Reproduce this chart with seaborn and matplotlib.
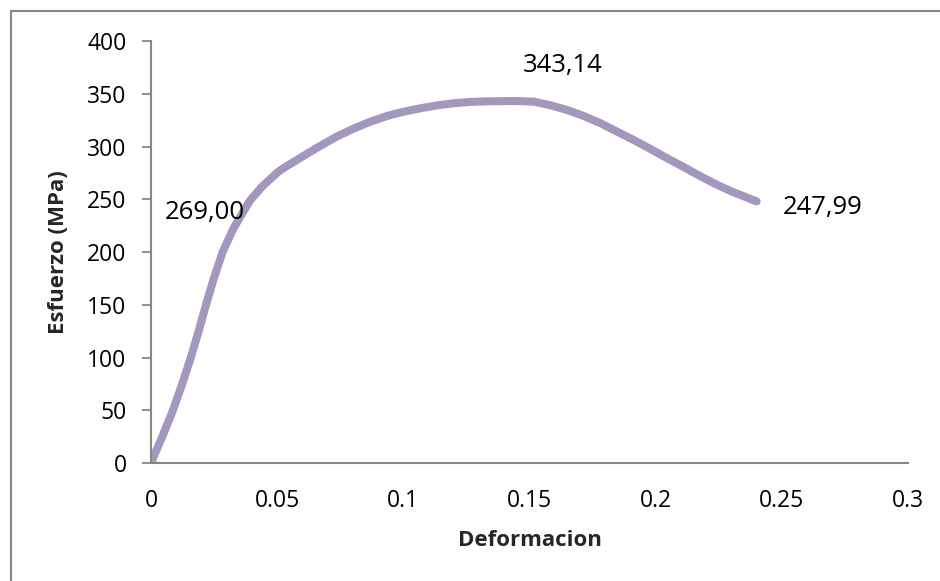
import matplotlib
matplotlib.use("Agg")
import matplotlib.pyplot as plt
import seaborn as sns
import pandas as pd
from matplotlib.patches import Rectangle

# Stress-strain curve
deformacion = [0.0, 0.0045, 0.0087, 0.0124, 0.0158, 0.0189, 0.0218, 0.0249, 0.0284,
               0.0326, 0.0353, 0.0393, 0.044, 0.0504, 0.0535, 0.0604, 0.067, 0.0737,
               0.0803, 0.0869, 0.0935, 0.1001, 0.1067, 0.1134, 0.12, 0.1266, 0.1332,
               0.1398, 0.1432, 0.1451, 0.1517, 0.1583, 0.165, 0.1715, 0.1782,
               0.1848, 0.1914, 0.198, 0.2046, 0.2113, 0.2179, 0.2245, 0.231, 0.24]
esfuerzo = [0.0, 25.0, 50.0, 75.0, 100.0, 125.0, 150.0, 175.0, 200.0,
            222.0, 233.0, 249.0, 262.0, 276.0, 281.0, 291.0, 300.5, 309.5,
            317.0, 323.5, 328.9, 333.0, 336.2, 339.0, 341.0, 342.3, 342.8,
            343.0, 343.14, 343.1, 342.5, 339.1, 334.6, 328.9, 322.0,
            314.0, 306.0, 297.6, 288.8, 280.3, 271.6, 263.5, 256.5, 247.99]

# Annotated values and where their labels sit
etiquetas = ["269,00", "343,14", "247,99"]
etiqueta_x = [0.0215, 0.163, 0.266]
etiqueta_y = [237, 377, 242]

x_ticks = [0, 0.05, 0.1, 0.15, 0.2, 0.25, 0.3]
x_tick_labels = ["0", "0.05", "0.1", "0.15", "0.2", "0.25", "0.3"]
y_ticks = [0, 50, 100, 150, 200, 250, 300, 350, 400]

sns.set_theme(style="white")
plt.rcParams["font.family"] = ["Open Sans", "DejaVu Sans"]

df = pd.DataFrame({"Deformacion": deformacion, "Esfuerzo": esfuerzo})

fig = plt.figure(figsize=(9.4, 5.81), dpi=100)
ax = fig.add_axes([0.1606, 0.2031, 0.966 - 0.1606, 0.9294 - 0.2031])

sns.lineplot(data=df, x="Deformacion", y="Esfuerzo", sort=False, ax=ax,
             color="#A497BD", linewidth=5.8, solid_capstyle="round",
             solid_joinstyle="round")

for txt, tx, ty in zip(etiquetas, etiqueta_x, etiqueta_y):
    ax.text(tx, ty, txt, ha="center", va="center", fontsize=18.5, color="black")

ax.set_xlim(0, 0.3)
ax.set_ylim(0, 400)
ax.set_xticks(x_ticks)
ax.set_xticklabels(x_tick_labels)
ax.set_yticks(y_ticks)

for side in ("top", "right"):
    ax.spines[side].set_visible(False)
for side in ("left", "bottom"):
    ax.spines[side].set_color("#868686")
    ax.spines[side].set_linewidth(1.5)

ax.tick_params(axis="y", direction="out", length=6.5, width=1.3, color="#868686",
               pad=11, labelsize=16.5, labelcolor="black", left=True)
ax.tick_params(axis="x", length=0, pad=19, labelsize=16.5, labelcolor="black")

ax.set_xlabel("Deformacion", fontsize=16, fontweight="bold")
ax.set_ylabel("Esfuerzo (MPa)", fontsize=16, fontweight="bold")
ax.xaxis.set_label_coords(0.5, -0.159)
ax.yaxis.set_label_coords(-0.108, 0.5)

# Chart-area border
fig.patches.append(Rectangle((11 / 940, -0.1), 1.2, 1 - 11 / 581 + 0.1,
                             transform=fig.transFigure, fill=False,
                             edgecolor="#868686", linewidth=1.5))

fig.savefig("out.png", dpi=100)
